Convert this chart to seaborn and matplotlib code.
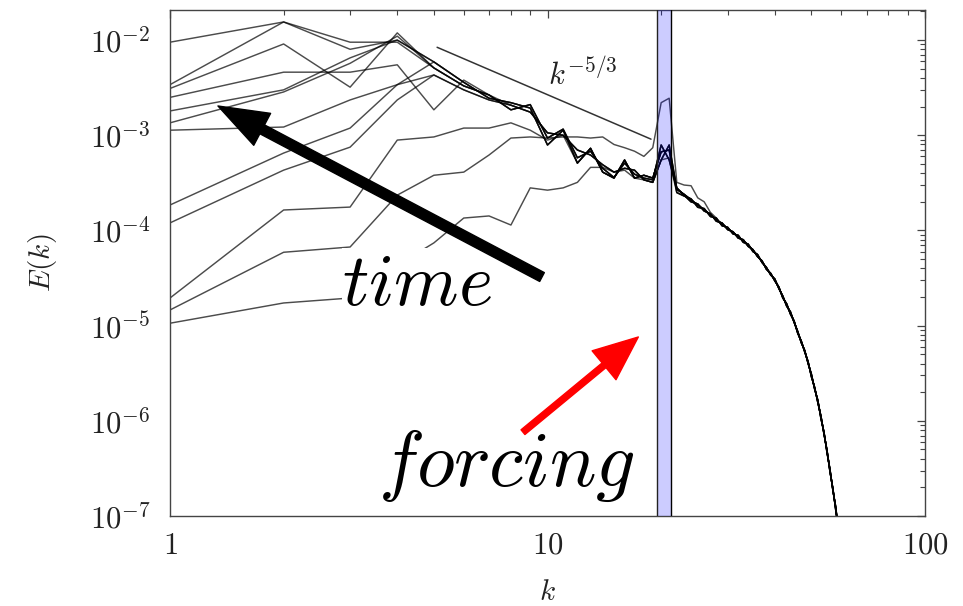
import numpy as np
import pandas as pd
import matplotlib
matplotlib.use("Agg")
import matplotlib.pyplot as plt
import seaborn as sns
from matplotlib.ticker import FixedLocator, FixedFormatter, NullFormatter, LogLocator

# ---------------- data ----------------
# shared inertial-range bundle, k = 5..21 (slightly different variants)
bundle_a = [5.1e-3, 3.3e-3, 2.65e-3, 1.85e-3, 2.1e-3, 9.35e-4, 1.16e-3, 5.8e-4, 6.8e-4,
            4.5e-4, 3.6e-4, 5.1e-4, 3.9e-4, 3.55e-4, 3.4e-4, 7.9e-4, 5.5e-4]
bundle_b = [4.3e-3, 3.0e-3, 2.35e-3, 2.07e-3, 1.75e-3, 1.06e-3, 1.0e-3, 7.0e-4, 6.2e-4,
            4.9e-4, 4.1e-4, 4.5e-4, 4.3e-4, 3.4e-4, 3.2e-4, 5.5e-4, 7.9e-4]
bundle_c = [5.9e-3, 3.6e-3, 2.45e-3, 2.2e-3, 1.93e-3, 7.9e-4, 1.13e-3, 5.1e-4, 7.3e-4,
            4.1e-4, 3.55e-4, 5.5e-4, 3.55e-4, 3.8e-4, 3.55e-4, 6.7e-4, 7.0e-4]
# dissipation-range tail, k = 22..60
tail_a = [2.7e-4, 2.4e-4, 2.1e-4, 1.85e-4, 1.65e-4, 1.45e-4, 1.3e-4, 1.17e-4, 1.05e-4,
          9.5e-5, 8.6e-5, 7.8e-5, 7.0e-5, 6.2e-5, 5.4e-5, 4.7e-5, 4.0e-5, 3.5e-5, 3.0e-5,
          2.5e-5, 2.0e-5, 1.65e-5, 1.35e-5, 1.1e-5, 8.5e-6, 6.8e-6, 5.4e-6, 4.1e-6, 3.0e-6,
          2.2e-6, 1.6e-6, 1.1e-6, 7.4e-7, 4.8e-7, 3.0e-7, 1.9e-7, 1.2e-7, 7e-8, 4e-8]
tail_b = [2.5e-4, 2.3e-4, 2.15e-4, 1.75e-4, 1.7e-4, 1.4e-4, 1.35e-4, 1.12e-4, 1.08e-4,
          9.2e-5, 8.9e-5, 7.5e-5, 7.2e-5, 6.0e-5, 5.6e-5, 4.6e-5, 4.1e-5, 3.4e-5, 3.1e-5,
          2.45e-5, 2.05e-5, 1.6e-5, 1.4e-5, 1.08e-5, 8.7e-6, 6.6e-6, 5.5e-6, 4.0e-6, 3.1e-6,
          2.15e-6, 1.65e-6, 1.05e-6, 7.6e-7, 4.6e-7, 3.1e-7, 1.85e-7, 1.25e-7, 6.8e-8, 4.2e-8]
tail_c = [2.8e-4, 2.35e-4, 2.0e-4, 1.9e-4, 1.6e-4, 1.5e-4, 1.25e-4, 1.2e-4, 1.02e-4,
          9.7e-5, 8.3e-5, 8.0e-5, 6.8e-5, 6.3e-5, 5.3e-5, 4.8e-5, 3.9e-5, 3.55e-5, 2.95e-5,
          2.55e-5, 1.95e-5, 1.7e-5, 1.32e-5, 1.12e-5, 8.3e-6, 6.9e-6, 5.3e-6, 4.2e-6, 2.9e-6,
          2.25e-6, 1.55e-6, 1.12e-6, 7.2e-7, 4.9e-7, 2.9e-7, 1.95e-7, 1.15e-7, 7.2e-8, 3.9e-8]

# low-k parts of each spectrum (starting at k = 1), earliest time first
low_t01 = [1.06e-5, 1.73e-5, 1.95e-5, 4.3e-5, 7.4e-5, 1.35e-4, 1.42e-4, 1.14e-4, 2.8e-4,
           2.65e-4, 2.8e-4, 3.2e-4, 4.6e-4, 4.6e-4, 4.1e-4, 4.3e-4, 3.55e-4, 3.4e-4,
           3.2e-4, 5.5e-4, 5.8e-4]
low_t02 = [1.46e-5, 5.9e-5, 6.7e-5, 2.35e-4, 3.8e-4, 4.1e-4, 6.2e-4, 9.35e-4, 9.6e-4,
           9.35e-4, 9.6e-4, 9.6e-4, 9.35e-4, 9.6e-4, 8.0e-4, 7.4e-4, 6.8e-4, 6.0e-4,
           7.4e-4, 2.2e-3, 2.45e-3, 3.2e-4, 3.0e-4, 2.95e-4, 2.2e-4, 2.0e-4, 1.55e-4]
low_t03 = [1.95e-5, 1.64e-4, 1.76e-4, 8.9e-4, 9.6e-4, 1.19e-3, 1.19e-3, 1.35e-3, 1.13e-3,
           8.9e-4, 1.0e-3]
low_t04 = [1.2e-4, 4.3e-4, 7.5e-4, 2.35e-3]
low_t05 = [1.85e-4, 6.5e-4, 1.19e-3, 3.4e-3]
low_t06 = [1.13e-3, 1.22e-3, 2.35e-3, 3.4e-3]
low_t07 = [1.35e-3, 2.85e-3, 5.7e-3, 1.1e-2]
low_t08 = [1.8e-3, 3.0e-3, 6.5e-3, 1.0e-2]
low_t09 = [2.5e-3, 4.6e-3, 4.6e-3, 5.5e-3, 1.85e-3, 3.8e-3, 2.65e-3]
low_t10 = [3.1e-3, 9.1e-3, 3.2e-3, 1.19e-2]
low_t11 = [3.4e-3, 1.55e-2, 8.0e-3, 1.0e-2]
low_t12 = [9.5e-3, 1.55e-2, 9.5e-3, 9.5e-3]

runs = [
    ("t01", low_t01, bundle_a, tail_c),
    ("t02", low_t02, bundle_b, tail_b),
    ("t03", low_t03, bundle_c, tail_b),
    ("t04", low_t04, bundle_b, tail_a),
    ("t05", low_t05, bundle_c, tail_c),
    ("t06", low_t06, bundle_b, tail_a),
    ("t07", low_t07, bundle_a, tail_b),
    ("t08", low_t08, bundle_c, tail_a),
    ("t09", low_t09, bundle_b, tail_c),
    ("t10", low_t10, bundle_a, tail_a),
    ("t11", low_t11, bundle_c, tail_b),
    ("t12", low_t12, bundle_a, tail_c),
]

# k^{-5/3} guide line end points
ref_k = [5.1, 18.8]
ref_E = [8.4e-3, 9.1e-4]

# forcing band
band_lo, band_hi = 19.45, 21.25

# ---------------- build long-form table ----------------
rows = []
for name, low, bundle, tail in runs:
    seq = list(low)
    if len(seq) < 21:
        seq = seq + bundle[len(seq) - 4:]
    seq = seq + tail[len(seq) - 21:]
    for i, e in enumerate(seq):
        rows.append((name, i + 1, e))
df = pd.DataFrame(rows, columns=["run", "k", "E"])
ref_df = pd.DataFrame({"k": ref_k, "E": ref_E})

# ---------------- style ----------------
sns.set_theme(style="white")
plt.rcParams["mathtext.fontset"] = "cm"
plt.rcParams["font.family"] = ["DejaVu Serif"]

fig = plt.figure(figsize=(9.63, 6.06), dpi=100)
ax = fig.add_axes([0.1765, 0.1485, 0.7841, 0.835])
ax.set_xscale("log")
ax.set_yscale("log")

sns.lineplot(data=df, x="k", y="E", units="run", estimator=None, color="black",
             lw=1.05, alpha=0.7, ax=ax, legend=False, zorder=2)
sns.lineplot(data=ref_df, x="k", y="E", color="#333333", lw=1.1, ax=ax,
             legend=False, zorder=2)

ax.axvspan(band_lo, band_hi, facecolor="blue", alpha=0.2, edgecolor="none", zorder=3)
ax.axvline(band_lo, color="#222222", lw=1.0, zorder=4)
ax.axvline(band_hi, color="black", lw=1.0, zorder=4)

ax.set_xlim(1, 100)
ax.set_ylim(1e-7, 2.07e-2)

# ticks
ax.xaxis.set_major_locator(FixedLocator([1, 10, 100]))
ax.xaxis.set_major_formatter(FixedFormatter(["$1$", "$10$", "$100$"]))
ax.xaxis.set_minor_locator(LogLocator(base=10, subs=np.arange(2, 10)))
ax.xaxis.set_minor_formatter(NullFormatter())
yt = [1e-7, 1e-6, 1e-5, 1e-4, 1e-3, 1e-2]
ax.yaxis.set_major_locator(FixedLocator(yt))
ax.yaxis.set_major_formatter(FixedFormatter(["$10^{-7}$", "$10^{-6}$", "$10^{-5}$",
                                             "$10^{-4}$", "$10^{-3}$", "$10^{-2}$"]))
ax.yaxis.set_minor_locator(LogLocator(base=10, subs=np.arange(2, 10)))
ax.yaxis.set_minor_formatter(NullFormatter())
ax.tick_params(which="both", direction="in", top=True, right=True, color="#444444",
               labelsize=22, labelcolor="#222222")
ax.tick_params(which="major", length=6, width=0.9)
ax.tick_params(which="minor", length=3.5, width=0.8)
ax.tick_params(axis="x", pad=10)
ax.tick_params(axis="y", pad=14)
for s in ax.spines.values():
    s.set_color("#444444")
    s.set_linewidth(1.0)

ax.set_xlabel("$k$", fontsize=21, labelpad=12, color="#222222")
ax.set_ylabel("$E(k)$", fontsize=21, labelpad=22, color="#222222")

# annotations
ax.text(10.03, 3.37e-3, "$k^{-5/3}$", fontsize=22, color="#222222",
        ha="left", va="baseline", zorder=5)
ax.text(2.855, 1.64e-5, "$time$", fontsize=53, color="black", ha="left",
        va="baseline", zorder=6,
        bbox=dict(boxstyle="square,pad=0.0", facecolor="white", edgecolor="none"))
ax.text(3.56, 2.07e-7, "$forcing$", fontsize=56, color="black", ha="left",
        va="baseline", zorder=6)

ax.annotate("", xy=(1.34, 2.03e-3), xytext=(9.67, 3.24e-5),
            arrowprops=dict(arrowstyle="simple,head_length=1.8,head_width=1.3,tail_width=0.36",
                            mutation_scale=20, color="black", shrinkA=0, shrinkB=0),
            zorder=7)
ax.annotate("", xy=(17.4, 7.6e-6), xytext=(8.61, 7.6e-7),
            arrowprops=dict(arrowstyle="simple,head_length=1.6,head_width=1.35,tail_width=0.22",
                            mutation_scale=20, color="red", shrinkA=0, shrinkB=0),
            zorder=7)

fig.savefig("out.png", dpi=100)
